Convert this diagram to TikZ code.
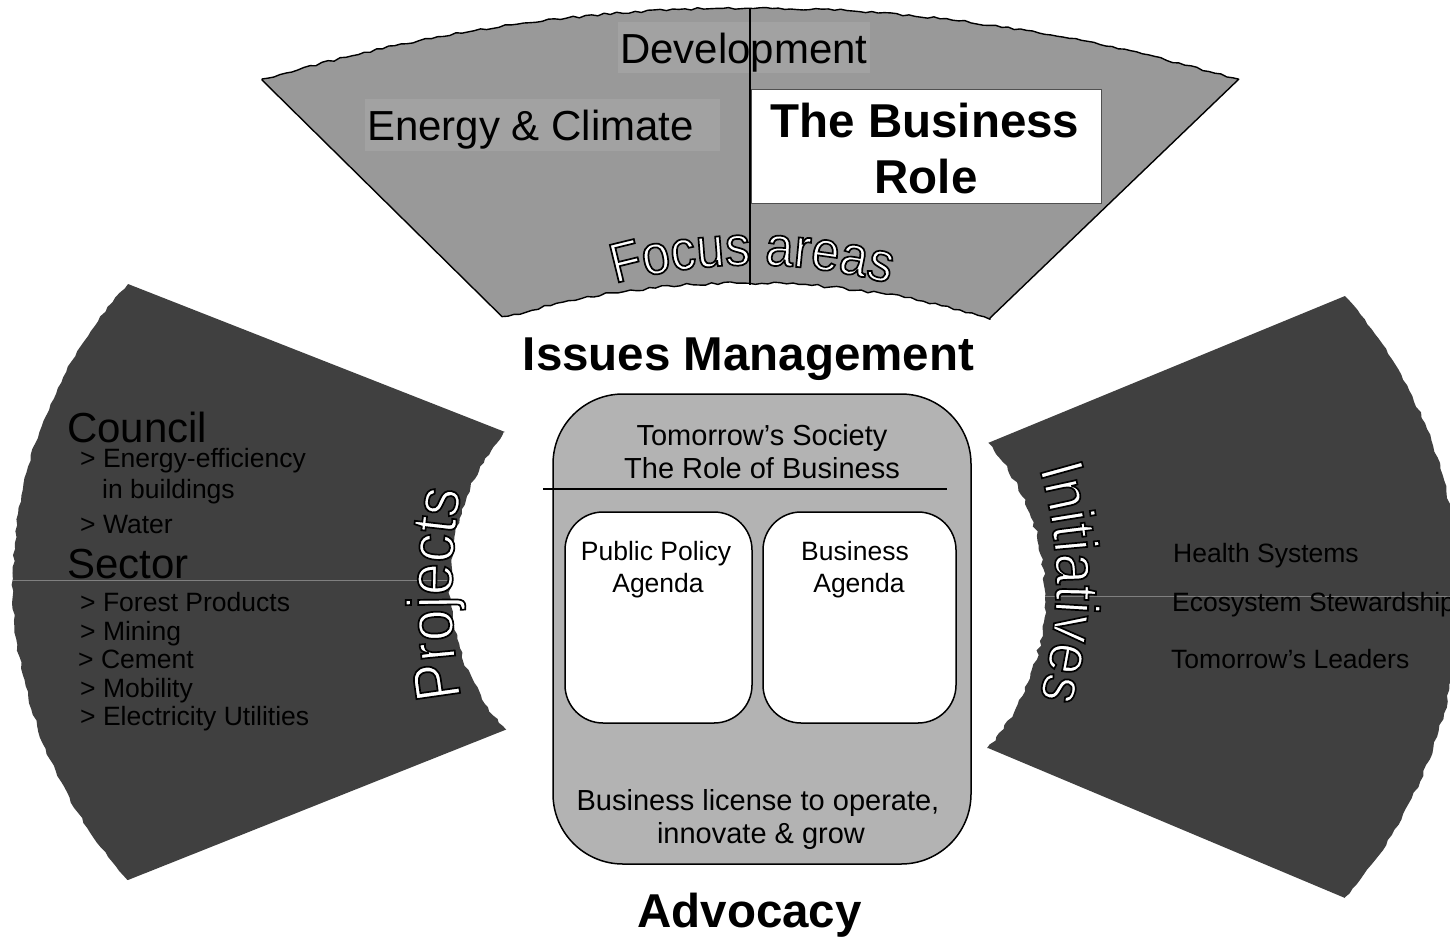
\documentclass[tikz,border=0pt]{standalone}
\usepackage{fontspec}
\setmainfont{Liberation Sans}
\newfontfamily\olfont[FakeStretch=0.9]{Liberation Sans}
\usetikzlibrary{decorations.text}
\definecolor{topgrey}{HTML}{999999}
\definecolor{labgrey}{HTML}{A2A2A2}
\definecolor{darkgrey}{HTML}{404040}
\definecolor{boxgrey}{HTML}{B3B3B3}
\definecolor{rulegrey}{HTML}{808080}
\definecolor{roleedge}{HTML}{505050}
\newcommand\fsz[1]{\fontsize{#1}{#1}\selectfont}
\newcommand\olon{\special{pdf:literal direct 2 Tr 1.7 w 0 G}}
\newcommand\olfocus{\olfont\fsz{56}\olon}
\newcommand\olproj{\olfont\fsz{64}\olon}
\newcommand\olinit{\olfont\fsz{62}\olon}
\begin{document}
\begin{tikzpicture}[x=1pt,y=-1pt,
  txt/.style={inner sep=0pt, anchor=base west, text=black},
  ctxt/.style={inner sep=0pt, anchor=base, text=black},
  labelbox/.style={fill=labgrey, inner sep=0pt, draw=none},
  wing/.style={fill=darkgrey, draw=none},
  fan/.style={fill=topgrey, draw=black, line width=1.4pt, line join=round},
  corebox/.style={fill=boxgrey, draw=black, line width=1.5pt, rounded corners=70pt, inner sep=0pt},
  agendabox/.style={fill=white, draw=black, line width=1.5pt, rounded corners=38pt, inner sep=0pt},
  thinrule/.style={draw=rulegrey, line width=0.8pt},
  divider/.style={draw=black, line width=1.4pt},
  heavyrule/.style={draw=black, line width=2.5pt},
  bigtxt/.style={font=\fsz{42}},
  itemtxt/.style={font=\fsz{26.5}},
  coretxt/.style={font=\fsz{29}},
  headtxt/.style={font=\bfseries\fsz{47.5}},
]
\pgfmathsetseed{4}
\useasboundingbox (0,0) rectangle (1450,937);
\clip (0,0) rectangle (1450,937);

% left wing
\fill[wing] (128,284) -- (505,432)
  -- plot[domain=220.5:139.5, samples=70, variable=\t] ({679.3+(229.3+2*rand)*cos(\t)}, {581+229.3*sin(\t)})
  -- (505,730) -- (128,880)
  -- plot[domain=137.8:222.2, samples=110, variable=\t] ({456.6+(443.6+1.5*rand)*cos(\t)}, {582+443.6*sin(\t)})
  -- cycle;
% right wing
\fill[wing] (1345,296) -- (988,443)
  -- plot[domain=-41:41, samples=70, variable=\t] ({812.5+(232.5+2*rand)*cos(\t)}, {595.5+232.5*sin(\t)})
  -- (988,748) -- (1345,898)
  -- plot[domain=41.5:-41.5, samples=110, variable=\t] ({1004.9+(454.2+1.5*rand)*cos(\t)}, {597+454.2*sin(\t)})
  -- cycle;
\draw[thinrule] (13,580) -- (450,580);
\draw[thinrule] (1045,596) -- (1450,596);

% top fan
\filldraw[fan] (262,80)
  -- plot[domain=253.2:286.8, samples=160, variable=\t] ({750.4+1689.8*cos(\t)}, {1697.7+(1689.8+1.2*rand)*sin(\t)})
  -- (990,318)
  -- plot[domain=-73.67:-106.33, samples=80, variable=\t] ({746+868*cos(\t)}, {1150.9+(868+1.5*rand)*sin(\t)})
  -- cycle;

\node[labelbox, minimum width=252pt, minimum height=51pt] (devbox) at (744,47.5) {};
\node[labelbox, minimum width=355pt, minimum height=52pt] (ecbox) at (542.5,125) {};
\node[fill=white, draw=roleedge, line width=0.8pt, minimum width=350pt, minimum height=114pt, inner sep=0pt] (rolebox) at (926,146.5) {};

\coordinate (divtop) at (750,8);
\coordinate (divbot) at (750,285);
\draw[divider] (divtop) -- (divbot);

\node[txt, bigtxt] (dev) at (620,63) {Development};
\node[txt, bigtxt] (ec) at (367,140) {Energy \& Climate};
\node[ctxt, headtxt] (role1) at (925,137) {The Business};
\node[ctxt, headtxt] (role2) at (926,193) {Role};
\node[ctxt, headtxt] (issues) at (748.5,370) {Issues Management};
\node[ctxt, headtxt] (advocacy) at (749.5,927) {Advocacy};

% core
\node[corebox, minimum width=418pt, minimum height=470pt] (core) at (762,629) {};
\coordinate (ruleL) at (543,489);
\coordinate (ruleR) at (947,489);
\draw[heavyrule] (ruleL) -- (ruleR);
\node[agendabox, minimum width=187pt, minimum height=211pt] (ppbox) at (658.5,617.5) {};
\node[agendabox, minimum width=193pt, minimum height=211pt] (babox) at (859.5,617.5) {};

\node[ctxt, coretxt] (soc1) at (762,445) {Tomorrow’s Society};
\node[ctxt, coretxt] (soc2) at (762,478) {The Role of Business};
\node[ctxt, itemtxt] (pp1) at (656,560) {Public Policy};
\node[ctxt, itemtxt] (pp2) at (658,592) {Agenda};
\node[ctxt, itemtxt] (ba1) at (855,560) {Business};
\node[ctxt, itemtxt] (ba2) at (859,592) {Agenda};
\node[ctxt, coretxt] (lic1) at (758,810) {Business license to operate,};
\node[ctxt, coretxt] (lic2) at (761,843) {innovate \& grow};

% left texts
\node[txt, bigtxt] (council) at (67,442) {Council};
\node[txt, itemtxt] (c1) at (80,467) {> Energy-efficiency};
\node[txt, itemtxt] (c1b) at (102,498) {in buildings};
\node[txt, itemtxt] (c2) at (80,533) {> Water};
\node[txt, bigtxt] (sector) at (67,578) {Sector};
\node[txt, itemtxt] (s1) at (80,611) {> Forest Products};
\node[txt, itemtxt] (s2) at (80,640) {> Mining};
\node[txt, itemtxt] (s3) at (78,668) {> Cement};
\node[txt, itemtxt] (s4) at (80,697) {> Mobility};
\node[txt, itemtxt] (s5) at (80,725) {> Electricity Utilities};

% right texts
\node[txt, itemtxt] (i1) at (1173,562) {Health Systems};
\node[txt, itemtxt] (i2) at (1172,611) {Ecosystem Stewardship};
\node[txt, itemtxt] (i3) at (1171,668) {Tomorrow’s Leaders};

% outlined curved labels
\path[decorate, decoration={text along path, text={|\olfocus|Focus areas}, text align=center, text color=white}]
  (752,780) ++(-112:515) arc[start angle=-112, end angle=-68, radius=515];
\path[decorate, decoration={text along path, text={|\olproj|Projects}, text align=center, text color=white}]
  (1050,594) ++(166:598) arc[start angle=166, end angle=194, radius=598];
\path[decorate, decoration={text along path, text={|\olinit|Initiatives}, text align=center, text color=white}]
  (656,583) ++(-22:400) arc[start angle=-22, end angle=22, radius=400];
\end{tikzpicture}
\end{document}
